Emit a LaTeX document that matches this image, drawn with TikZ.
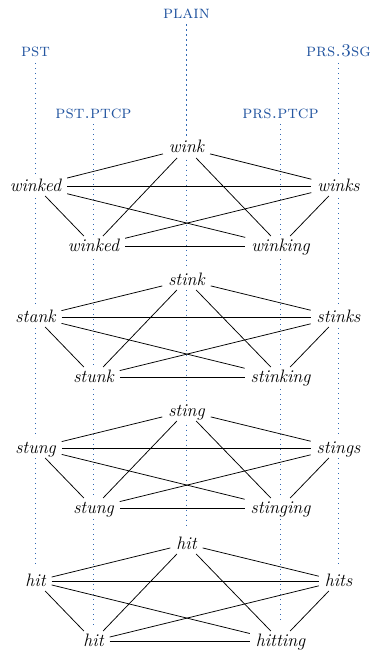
\documentclass[tikz,border=0pt]{standalone}
\usetikzlibrary{backgrounds}

\definecolor{glossblue}{RGB}{35,85,160}
\definecolor{guideblue}{RGB}{50,105,180}

\tikzset{
  % one inflected form of a verb; fixed height and depth keep a row on one line
  form/.style={font=\fontsize{18}{20}\selectfont\itshape, fill=white,
    text height=12.5pt, text depth=2.5pt,
    inner xsep=6pt, inner ysep=2.5pt, outer sep=0pt, anchor=base},
  % paradigm cell heading a column
  cell/.style={font=\fontsize{18}{20}\selectfont\scshape, text=glossblue,
    inner xsep=2pt, inner ysep=2.5pt, outer sep=0pt, anchor=base},
  % column guide running down from a heading
  guide/.style={guideblue, line width=1pt, dash pattern=on 1.3pt off 3.7pt,
    shorten <=3pt},
  % link between two forms of one verb
  link/.style={black, line width=0.75pt},
}

\begin{document}
\begin{tikzpicture}[x=1pt, y=-1pt]
  \useasboundingbox (0,0) rectangle (372,650);

  % column headings
  \node[cell] (plain)   at (186.5,19)  {plain};
  \node[cell] (pst)     at (35.5,57)   {pst};
  \node[cell] (prs3sg)  at (338.5,57)  {prs.3sg};
  \node[cell] (pstptcp) at (93.5,118)  {pst.ptcp};
  \node[cell] (prsptcp) at (280.5,118) {prs.ptcp};

  % wink
  \node[form] (g1t)  at (186.5,153) {wink};
  \node[form] (g1l)  at (35.5,191)  {winked};
  \node[form] (g1r)  at (338.5,191) {winks};
  \node[form] (g1bl) at (93.5,251)  {winked};
  \node[form] (g1br) at (280.5,251) {winking};

  % stink
  \node[form] (g2t)  at (186.5,285) {stink};
  \node[form] (g2l)  at (35.5,322)  {stank};
  \node[form] (g2r)  at (338.5,322) {stinks};
  \node[form] (g2bl) at (93.5,382)  {stunk};
  \node[form] (g2br) at (280.5,382) {stinking};

  % sting
  \node[form] (g3t)  at (186.5,416) {sting};
  \node[form] (g3l)  at (35.5,453)  {stung};
  \node[form] (g3r)  at (338.5,453) {stings};
  \node[form] (g3bl) at (93.5,513)  {stung};
  \node[form] (g3br) at (280.5,513) {stinging};

  % hit
  \node[form] (g4t)  at (186.5,549) {hit};
  \node[form] (g4l)  at (35.5,586)  {hit};
  \node[form] (g4r)  at (338.5,586) {hits};
  \node[form] (g4bl) at (93.5,646)  {hit};
  \node[form] (g4br) at (280.5,646) {hitting};

  % column guides, behind the forms
  \begin{scope}[on background layer]
    \draw[guide, shorten >=8pt] (plain)   -- (g4t);
    \draw[guide, shorten >=5pt] (pst)     -- (g4l);
    \draw[guide, shorten >=8pt] (prs3sg)  -- (g4r);
    \draw[guide, shorten >=4pt] (pstptcp) -- (g4bl);
    \draw[guide, shorten >=8pt] (prsptcp) -- (g4br);
  \end{scope}

  % every pair of forms within a verb is linked
  \foreach \g in {1,2,3,4} {
    \foreach \a/\b in {t/l, t/r, t/bl, t/br, l/r, l/bl, l/br, r/bl, r/br, bl/br}
      \draw[link] (g\g\a) -- (g\g\b);
  }
\end{tikzpicture}
\end{document}
